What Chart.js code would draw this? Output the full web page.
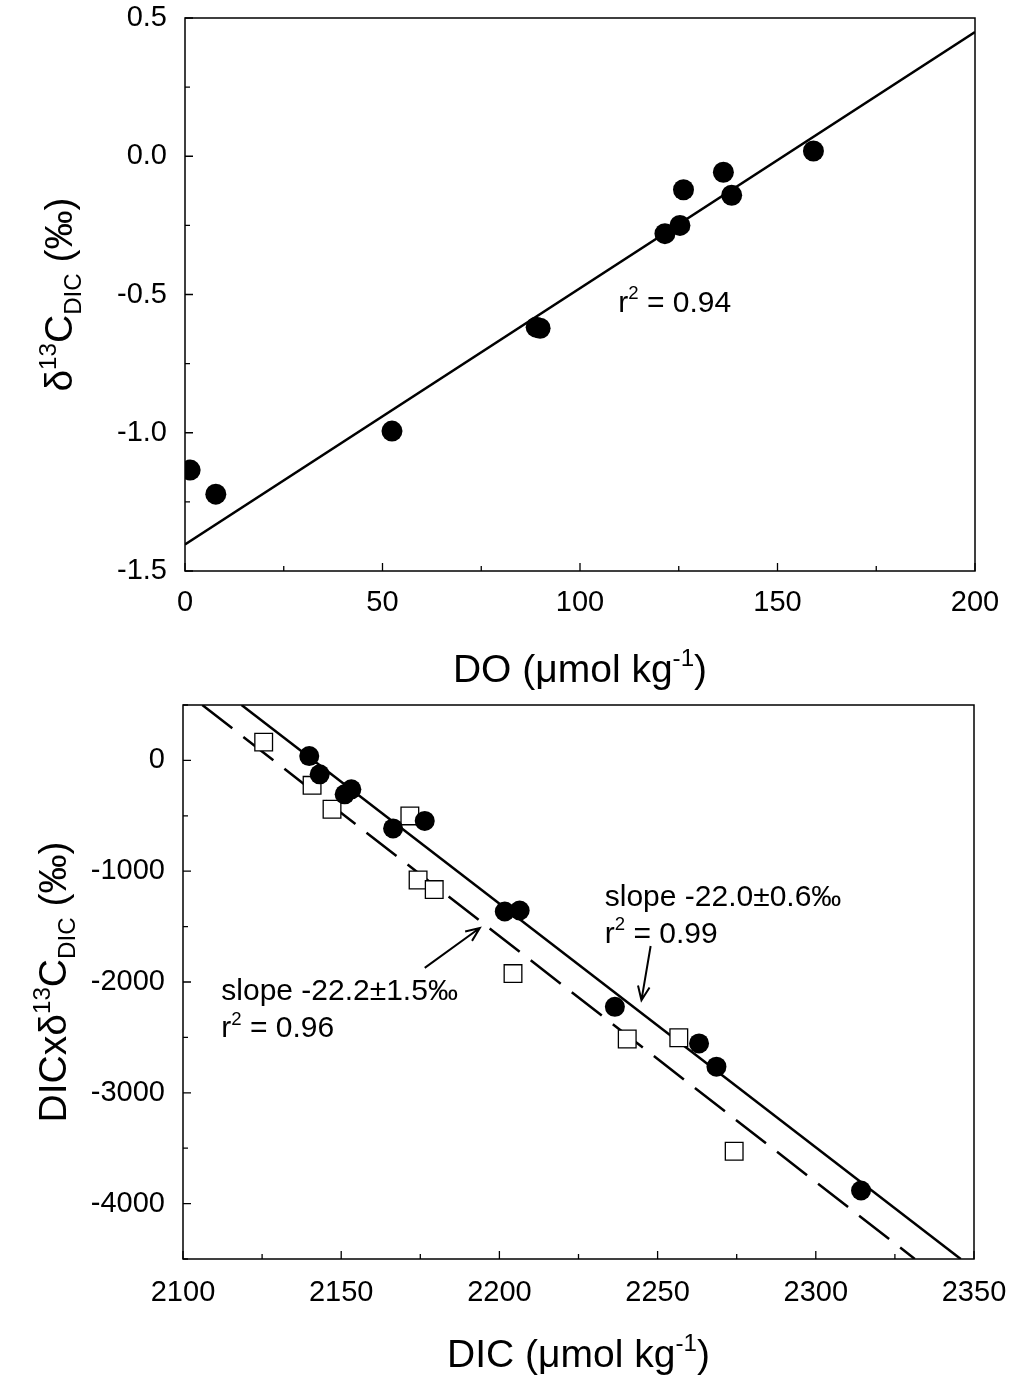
<!DOCTYPE html>
<html>
<head>
<meta charset="utf-8">
<script src="https://cdn.jsdelivr.net/npm/chart.js@4.4.1/dist/chart.umd.min.js"></script>
<style>
  html, body { margin: 0; padding: 0; background: #fff; }
  #pagina { position: relative; width: 1011px; height: 1383px; }
  canvas { position: absolute; left: 0; }
</style>
</head>
<body>
<div id="pagina">
  <canvas id="chart-do" width="1011" height="700" style="top:0"></canvas>
  <canvas id="chart-dic" width="1011" height="703" style="top:680px"></canvas>
</div>
<script>
// --- Painel superior: d13C-DIC vs oxigênio dissolvido ---
const doX = [1.3, 7.8, 52.4, 88.9, 89.9, 121.5, 125.3, 126.2, 136.3, 138.4, 159.1];
const d13C = [-1.135, -1.222, -0.994, -0.618, -0.622, -0.280, -0.250, -0.121, -0.058, -0.141, 0.019];
// reta de ajuste (extremos)
const ajusteDoX = [0, 200];
const ajusteDoY = [-1.404, 0.449];

// --- Painel inferior: DIC x d13C vs DIC ---
const dicCheio = [2139.9, 2143.2, 2151.1, 2153.2, 2166.4, 2176.4, 2201.7, 2206.4, 2236.5, 2263.1, 2268.6, 2314.3];
const prodCheio = [39, -126, -306, -261, -614, -546, -1364, -1355, -2224, -2554, -2764, -3882];
const dicVazio = [2125.5, 2140.8, 2147.1, 2171.7, 2174.3, 2179.4, 2204.3, 2240.4, 2256.7, 2274.2];
const prodVazio = [165, -225, -441, -501, -1079, -1166, -1924, -2515, -2503, -3528];
// retas de ajuste (extremos)
const ajusteCheioX = [2118.5, 2345.8];
const ajusteCheioY = [500, -4500];
const ajusteVazioX = [2106.1, 2331.3];
const ajusteVazioY = [500, -4500];

const FONTE = '"Liberation Sans", Arial, Helvetica, sans-serif';
const fonte = (px) => `${px}px ${FONTE}`;

const pontos = (xs, ys) => xs.map((x, i) => ({ x: x, y: ys[i] }));
const ehMaior = (v, passo) => Math.abs(v / passo - Math.round(v / passo)) < 1e-6;

/**
 * Desenha texto com partes sobrescritas/subscritas
 */
function textoRico(ctx, partes, x, y, size, align) {
    const medir = (p) => {
        ctx.font = fonte(p.s ? size * 0.62 : size);
        return ctx.measureText(p.t).width;
    };
    const total = partes.reduce((w, p) => w + medir(p), 0);
    let cx = align === 'center' ? x - total / 2 : x;
    partes.forEach(p => {
        const w = medir(p);
        let dy = 0;
        if (p.s === 'sup') dy = -size * 0.42;
        if (p.s === 'sub') dy = size * 0.24;
        ctx.fillText(p.t, cx, y + dy);
        cx += w;
    });
}

/**
 * Plugin: moldura, marcas internas, títulos, anotações e setas
 */
function criarDecoracao(cfg) {
    return {
        id: 'decoracao',
        afterDraw(chart) {
            const ctx = chart.ctx;
            const a = chart.chartArea;
            const sx = chart.scales.x, sy = chart.scales.y;
            ctx.save();
            ctx.strokeStyle = '#000';
            ctx.fillStyle = '#000';

            // moldura
            ctx.lineWidth = 1.5;
            ctx.strokeRect(a.left, a.top, a.right - a.left, a.bottom - a.top);

            // marcas para dentro
            ctx.lineWidth = 1.3;
            ctx.beginPath();
            sx.ticks.forEach(t => {
                const px = sx.getPixelForValue(t.value);
                const len = ehMaior(t.value, cfg.maiorX) ? 8 : 5;
                ctx.moveTo(px, a.bottom);
                ctx.lineTo(px, a.bottom - len);
            });
            sy.ticks.forEach(t => {
                const py = sy.getPixelForValue(t.value);
                const len = ehMaior(t.value, cfg.maiorY) ? 8 : 5;
                ctx.moveTo(a.left, py);
                ctx.lineTo(a.left + len, py);
            });
            ctx.stroke();

            ctx.textAlign = 'left';
            ctx.textBaseline = 'alphabetic';

            // título do eixo x
            textoRico(ctx, cfg.tituloX, (a.left + a.right) / 2, a.bottom + cfg.baseTituloX, 39, 'center');

            // título do eixo y (girado)
            ctx.save();
            ctx.translate(cfg.baseTituloY, (a.top + a.bottom) / 2);
            ctx.rotate(-Math.PI / 2);
            textoRico(ctx, cfg.tituloY, 0, 0, 39, 'center');
            ctx.restore();

            // anotações
            cfg.textos.forEach(tx => {
                const px = sx.getPixelForValue(tx.x);
                const py = sy.getPixelForValue(tx.y);
                tx.linhas.forEach((linha, i) => {
                    textoRico(ctx, linha, px, py + i * 37, 30, 'left');
                });
            });

            // setas
            ctx.lineWidth = 2;
            cfg.setas.forEach(s => {
                const x0 = sx.getPixelForValue(s.de[0]), y0 = sy.getPixelForValue(s.de[1]);
                const x1 = sx.getPixelForValue(s.para[0]), y1 = sy.getPixelForValue(s.para[1]);
                const ang = Math.atan2(y1 - y0, x1 - x0);
                ctx.beginPath();
                ctx.moveTo(x0, y0);
                ctx.lineTo(x1, y1);
                ctx.moveTo(x1 - 15 * Math.cos(ang - 0.4), y1 - 15 * Math.sin(ang - 0.4));
                ctx.lineTo(x1, y1);
                ctx.lineTo(x1 - 15 * Math.cos(ang + 0.4), y1 - 15 * Math.sin(ang + 0.4));
                ctx.stroke();
            });

            ctx.restore();
        }
    };
}

function eixo(min, max, passo, passoMaior, padding, formato, fit) {
    return {
        type: 'linear',
        min: min,
        max: max,
        grid: { display: false, drawTicks: false },
        border: { display: false },
        ticks: {
            stepSize: passo,
            autoSkip: false,
            maxRotation: 0,
            padding: padding,
            color: '#000',
            font: { family: FONTE, size: 29 },
            callback: v => ehMaior(v, passoMaior) ? formato(v) : ''
        },
        afterFit: s => {
            fit(s);
            // sem folga extra para rótulos: a área do gráfico fica onde a figura pede
            s.paddingTop = 0;
            s.paddingBottom = 0;
            s.paddingLeft = 0;
            s.paddingRight = 0;
        }
    };
}

Chart.defaults.devicePixelRatio = 1;

// Gráfico superior
new Chart(document.getElementById('chart-do'), {
    type: 'scatter',
    data: {
        datasets: [
            {
                data: pontos(doX, d13C),
                pointStyle: 'circle',
                pointRadius: 10.5,
                backgroundColor: '#000',
                borderColor: '#000',
                borderWidth: 0,
                showLine: false,
                order: 1
            },
            {
                data: pontos(ajusteDoX, ajusteDoY),
                showLine: true,
                pointRadius: 0,
                borderColor: '#000',
                borderWidth: 2.5,
                order: 2
            }
        ]
    },
    options: {
        responsive: false,
        animation: false,
        events: [],
        layout: { padding: { top: 18, right: 36, left: 0, bottom: 0 } },
        plugins: { legend: { display: false }, tooltip: { enabled: false } },
        scales: {
            x: eixo(0, 200, 25, 50, 15, v => String(v), s => { s.height = 129; }),
            y: eixo(-1.5, 0.5, 0.25, 0.5, 18, v => v.toFixed(1), s => { s.width = 185; })
        }
    },
    plugins: [criarDecoracao({
        maiorX: 50,
        maiorY: 0.5,
        baseTituloX: 111,
        baseTituloY: 72,
        tituloX: [{ t: 'DO (μmol kg' }, { t: '-1', s: 'sup' }, { t: ')' }],
        tituloY: [{ t: 'δ' }, { t: '13', s: 'sup' }, { t: 'C' }, { t: 'DIC', s: 'sub' }, { t: ' (‰)' }],
        textos: [
            { x: 109.7, y: -0.563, linhas: [[{ t: 'r' }, { t: '2', s: 'sup' }, { t: ' = 0.94' }]] }
        ],
        setas: []
    })]
});

// Gráfico inferior
new Chart(document.getElementById('chart-dic'), {
    type: 'scatter',
    data: {
        datasets: [
            {
                data: pontos(dicCheio, prodCheio),
                pointStyle: 'circle',
                pointRadius: 10,
                backgroundColor: '#000',
                borderColor: '#000',
                borderWidth: 0,
                showLine: false,
                order: 1
            },
            {
                data: pontos(dicVazio, prodVazio),
                pointStyle: 'rect',
                pointRadius: 12.5,
                backgroundColor: '#fff',
                borderColor: '#000',
                borderWidth: 1.3,
                showLine: false,
                order: 2
            },
            {
                data: pontos(ajusteCheioX, ajusteCheioY),
                showLine: true,
                pointRadius: 0,
                borderColor: '#000',
                borderWidth: 2.5,
                order: 3
            },
            {
                data: pontos(ajusteVazioX, ajusteVazioY),
                showLine: true,
                pointRadius: 0,
                borderColor: '#000',
                borderWidth: 2.5,
                borderDash: [38, 14],
                order: 3
            }
        ]
    },
    options: {
        responsive: false,
        animation: false,
        events: [],
        layout: { padding: { top: 25, right: 37, left: 0, bottom: 0 } },
        plugins: { legend: { display: false }, tooltip: { enabled: false } },
        scales: {
            x: eixo(2100, 2350, 25, 50, 17, v => String(v), s => { s.height = 124; }),
            y: eixo(-4500, 500, 500, 1000, 18, v => String(v), s => { s.width = 183; })
        }
    },
    plugins: [criarDecoracao({
        maiorX: 50,
        maiorY: 1000,
        baseTituloX: 108,
        baseTituloY: 66,
        tituloX: [{ t: 'DIC (μmol kg' }, { t: '-1', s: 'sup' }, { t: ')' }],
        tituloY: [{ t: 'DICxδ' }, { t: '13', s: 'sup' }, { t: 'C' }, { t: 'DIC', s: 'sub' }, { t: ' (‰)' }],
        textos: [
            { x: 2233.3, y: -1313, linhas: [[{ t: 'slope -22.0±0.6‰' }], [{ t: 'r' }, { t: '2', s: 'sup' }, { t: ' = 0.99' }]] },
            { x: 2112.1, y: -2165, linhas: [[{ t: 'slope -22.2±1.5‰' }], [{ t: 'r' }, { t: '2', s: 'sup' }, { t: ' = 0.96' }]] }
        ],
        setas: [
            { de: [2247.8, -1675], para: [2244.9, -2164] },
            { de: [2176.4, -1873], para: [2193.8, -1513] }
        ]
    })]
});
</script>
</body>
</html>
